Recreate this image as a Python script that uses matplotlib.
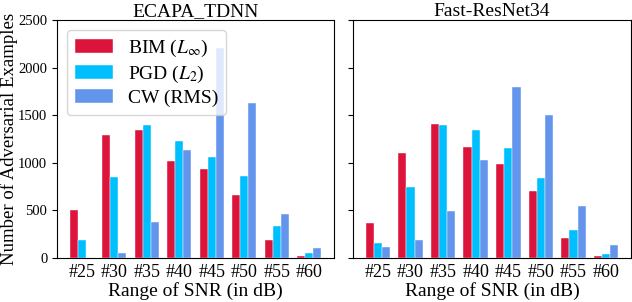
import matplotlib
matplotlib.use("Agg")
import matplotlib.pyplot as plt
import numpy as np

plt.rcParams['font.family'] = ['Liberation Serif', 'DejaVu Serif']
plt.rcParams['mathtext.fontset'] = 'stix'

categories = ['#25', '#30', '#35', '#40', '#45', '#50', '#55', '#60']
series_names = [r'BIM ($L_\infty$)', r'PGD ($L_2$)', 'CW (RMS)']
colors = ['#DC143C', '#00BFFF', '#6495ED']

ecapa_bim = [500, 1290, 1346, 1017, 940, 661, 189, 21]
ecapa_pgd = [192, 846, 1402, 1224, 1063, 860, 336, 56]
ecapa_cw = [0, 52, 374, 1133, 2210, 1633, 462, 101]

fast_bim = [371, 1101, 1406, 1168, 990, 706, 210, 24]
fast_pgd = [154, 748, 1399, 1346, 1157, 836, 294, 45]
fast_cw = [119, 192, 490, 1031, 1794, 1500, 542, 136]

titles = ['ECAPA_TDNN', 'Fast-ResNet34']
data = [[ecapa_bim, ecapa_pgd, ecapa_cw], [fast_bim, fast_pgd, fast_cw]]

fig = plt.figure(figsize=(6.32, 3.02), dpi=100)
W, H = 632, 302
ax1 = fig.add_axes([57 / W, 1 - 258 / H, (334 - 57) / W, (258 - 20) / H])
ax2 = fig.add_axes([353 / W, 1 - 258 / H, (631 - 353) / W, (258 - 20) / H], sharey=ax1)

x = np.arange(len(categories))
width = 0.25
for ax, title, series in zip([ax1, ax2], titles, data):
    for i, (vals, name, c) in enumerate(zip(series, series_names, colors)):
        ax.bar(x + (i - 1) * width, vals, width, color=c, label=name,
               edgecolor='white', linewidth=0.3)
    ax.set_xticks(x)
    ax.set_xticklabels(categories, fontsize=13)
    ax.tick_params(axis='x', length=0, pad=4)
    ax.tick_params(axis='y', labelsize=10.5)
    ax.set_title(title, fontsize=14, pad=2)
    ax.set_xlabel('Range of SNR (in dB)', fontsize=14, labelpad=1)

ax1.set_ylim(0, 2500)
ax1.set_yticks([0, 500, 1000, 1500, 2000, 2500])
ax1.set_ylabel('Number of Adversarial Examples', fontsize=13.5, labelpad=0)
plt.setp(ax2.get_yticklabels(), visible=False)

ax1.legend(loc='upper left', fontsize=14, handlelength=2.0, handleheight=0.7,
           framealpha=0.8, borderpad=0.4, labelspacing=0.25, handletextpad=0.75)

fig.savefig('out.png', dpi=100)
